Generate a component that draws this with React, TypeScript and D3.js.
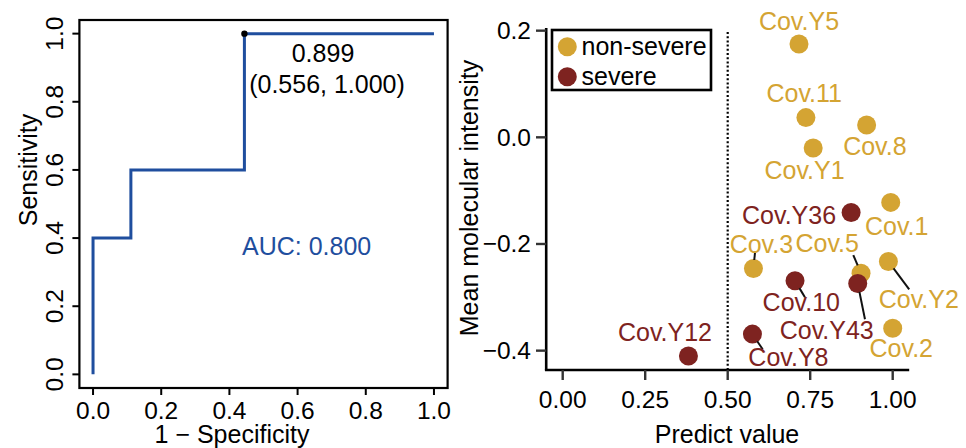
import React from "react";
import * as d3 from "d3";

// ROC curve (left panel)
const rocFpr = [0, 0, 0.111, 0.111, 0.444, 0.444, 1];
const rocTpr = [0, 0.4, 0.4, 0.6, 0.6, 1, 1];
const bestFpr = 0.444;
const bestTpr = 1.0;
const bestThreshold = "0.899";
const bestLabel = "(0.556, 1.000)";
const aucText = "AUC: 0.800";
const rocTicks = [0, 0.2, 0.4, 0.6, 0.8, 1.0];

// scatter (right panel)
const samples = ["Cov.Y5", "Cov.11", "Cov.8", "Cov.Y1", "Cov.1", "Cov.Y36", "Cov.Y2", "Cov.5", "Cov.3", "Cov.10", "Cov.Y43", "Cov.2", "Cov.Y8", "Cov.Y12"];
const predictValue = [0.716, 0.737, 0.921, 0.759, 0.994, 0.874, 0.987, 0.904, 0.578, 0.704, 0.894, 1.0, 0.575, 0.381];
const intensity = [0.175, 0.037, 0.023, -0.02, -0.122, -0.141, -0.233, -0.255, -0.246, -0.269, -0.274, -0.358, -0.369, -0.41];
const groups = ["non-severe", "non-severe", "non-severe", "non-severe", "non-severe", "severe", "non-severe", "non-severe", "non-severe", "severe", "severe", "non-severe", "severe", "severe"];
// repelled label positions (data units)
const labelX = [0.716, 0.732, 0.946, 0.733, 1.012, 0.686, 1.079, 0.8015, 0.602, 0.723, 0.8, 1.026, 0.684, 0.31];
const labelY = [0.219, 0.0825, -0.0158, -0.0613, -0.1658, -0.1457, -0.3032, -0.1988, -0.2006, -0.3083, -0.3613, -0.3956, -0.4114, -0.3656];
// segment ends (data units), null when no segment
const segX = [null, null, null, null, null, null, 1.05, 0.8806, 0.583, 0.734, 0.916, null, 0.606, null];
const segY = [null, null, null, null, null, null, -0.285, -0.2207, -0.2145, -0.3, -0.341, null, -0.3975, null];
const groupNames = ["non-severe", "severe"];
const groupColors = ["#D4A433", "#7E2320"];
const xTicks = [0, 0.25, 0.5, 0.75, 1.0];
const yTicks = [0.2, 0, -0.2, -0.4];
const cutoff = 0.5;

const FONT = "'Liberation Sans', Arial, Helvetica, sans-serif";
const BLUE = "#1F4E9E";

export default function App() {
  // left
  const lx = d3.scaleLinear().domain([-0.04, 1.04]).range([79.4, 447.6]);
  const ly = d3.scaleLinear().domain([-0.04, 1.04]).range([388, 20]);
  const rocLine = d3
    .line<number>()
    .x((d) => lx(d))
    .y((_, i) => ly(rocTpr[i]));

  // right
  const x = d3.scaleLinear().domain([-0.05, 1.05]).range([546.2, 909.2]);
  const y = d3.scaleLinear().domain([-0.4363, 0.205]).range([370, 28]);
  const color = d3.scaleOrdinal<string, string>().domain(groupNames).range(groupColors);
  const r = 9.5;

  return (
    <svg width={966} height={448} style={{ position: "absolute", left: 0, top: 0, background: "#fff" }} fontFamily={FONT}>
      {/* ---------- ROC ---------- */}
      <rect x={lx(-0.04)} y={ly(1.04)} width={lx(1.04) - lx(-0.04)} height={ly(-0.04) - ly(1.04)} fill="none" stroke="#000" strokeWidth={2.2} />
      {rocTicks.map((t) => (
        <g key={"rx" + t}>
          <line x1={lx(t)} x2={lx(t)} y1={ly(-0.04)} y2={ly(-0.04) + 7} stroke="#000" strokeWidth={2} />
          <text x={lx(t)} y={419} textAnchor="middle" fontSize={24.5}>{t.toFixed(1)}</text>
        </g>
      ))}
      {rocTicks.map((t) => (
        <g key={"ry" + t}>
          <line x1={lx(-0.04) - 7} x2={lx(-0.04)} y1={ly(t)} y2={ly(t)} stroke="#000" strokeWidth={2} />
          <text transform={`translate(63,${ly(t)}) rotate(-90)`} textAnchor="middle" fontSize={24.5}>{t.toFixed(1)}</text>
        </g>
      ))}
      <text transform="translate(37,170) rotate(-90)" textAnchor="middle" fontSize={25}>Sensitivity</text>
      <text x={232} y={443} textAnchor="middle" fontSize={25}>1 − Specificity</text>
      <path d={rocLine(rocFpr) || ""} fill="none" stroke={BLUE} strokeWidth={3} />
      <circle cx={lx(bestFpr)} cy={ly(bestTpr)} r={3.2} fill="#000" />
      <text x={323} y={62} textAnchor="middle" fontSize={25}>{bestThreshold}</text>
      <text x={327} y={93} textAnchor="middle" fontSize={25}>{bestLabel}</text>
      <text x={242} y={255} fontSize={25} fill={BLUE}>{aucText}</text>

      {/* ---------- scatter ---------- */}
      <line x1={x(-0.05)} x2={x(-0.05)} y1={y(0.205)} y2={y(-0.4363)} stroke="#000" strokeWidth={2.6} />
      <line x1={x(-0.05) - 1.3} x2={x(1.05)} y1={y(-0.4363)} y2={y(-0.4363)} stroke="#000" strokeWidth={2.6} />
      {xTicks.map((t) => (
        <g key={"sx" + t}>
          <line x1={x(t)} x2={x(t)} y1={370} y2={380} stroke="#333" strokeWidth={2.4} />
          <text x={x(t)} y={408} textAnchor="middle" fontSize={24.5}>{t.toFixed(2)}</text>
        </g>
      ))}
      {yTicks.map((t) => (
        <g key={"sy" + t}>
          <line x1={536} x2={x(-0.05)} y1={y(t)} y2={y(t)} stroke="#333" strokeWidth={2.4} />
          <text x={531} y={y(t) + 8.5} textAnchor="end" fontSize={24.5}>{t === 0 ? "0.0" : t.toFixed(1).replace("-", "−")}</text>
        </g>
      ))}
      <text x={727} y={443} textAnchor="middle" fontSize={25}>Predict value</text>
      <text transform="translate(478,198) rotate(-90)" textAnchor="middle" fontSize={25}>Mean molecular intensity</text>
      <line x1={x(cutoff)} x2={x(cutoff)} y1={32} y2={370} stroke="#000" strokeWidth={2.2} strokeDasharray="2,2.2" />

      {samples.map((s, i) => (
        <circle key={"p" + s} cx={x(predictValue[i])} cy={y(intensity[i])} r={r} fill={color(groups[i])} />
      ))}
      {samples.map((s, i) => {
        if (segX[i] === null) return null;
        const px = x(predictValue[i]);
        const py = y(intensity[i]);
        const ex = x(segX[i] as number);
        const ey = y(segY[i] as number);
        const len = Math.hypot(ex - px, ey - py);
        return (
          <line key={"s" + s} x1={px + ((ex - px) / len) * r * 0.9} y1={py + ((ey - py) / len) * r * 0.9} x2={ex} y2={ey} stroke="#111" strokeWidth={2} />
        );
      })}
      {samples.map((s, i) => (
        <text key={"l" + s} x={x(labelX[i])} y={y(labelY[i]) + 9} textAnchor="middle" fontSize={25} fill={color(groups[i])}>{s}</text>
      ))}

      {/* legend */}
      <rect x={552} y={30} width={159} height={60} fill="#fff" stroke="#000" strokeWidth={2.6} />
      {groupNames.map((g, i) => (
        <g key={"lg" + g}>
          <circle cx={567.3} cy={46.7 + i * 30} r={9.5} fill={color(g)} />
          <text x={581.5} y={55 + i * 30} fontSize={25}>{g}</text>
        </g>
      ))}
    </svg>
  );
}
